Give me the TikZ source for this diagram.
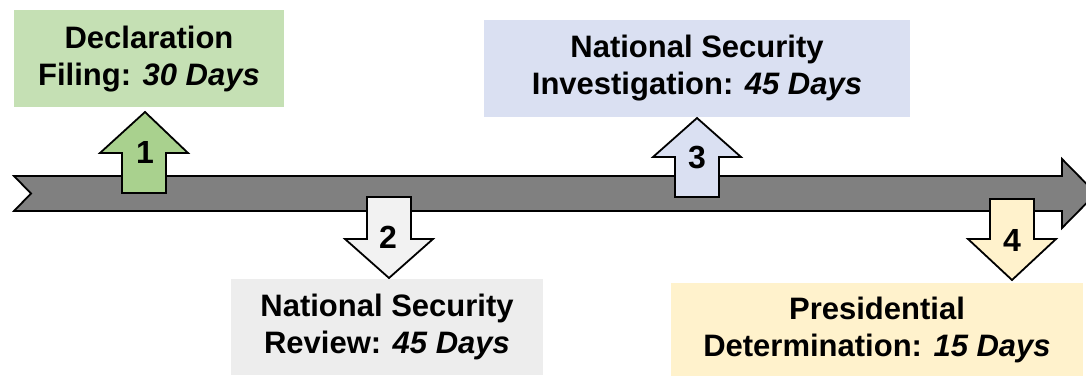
\documentclass[tikz,border=0pt]{standalone}
\usepackage{fontspec}
\setmainfont{Liberation Sans}
\definecolor{bodygray}{HTML}{808080}
\definecolor{greenbox}{HTML}{C5E0B4}
\definecolor{greenarrow}{HTML}{A9D18E}
\definecolor{graybox}{HTML}{EDEDED}
\definecolor{grayarrow}{HTML}{F2F2F2}
\definecolor{bluebox}{HTML}{DAE0F2}
\definecolor{bluearrow}{HTML}{DAE0F2}
\definecolor{yellowbox}{HTML}{FFF2CC}
\definecolor{yellowarrow}{HTML}{FFF2CC}
\tikzset{
  stagebox/.style={inner sep=0pt, align=center, font=\fontsize{31}{37}\selectfont\bfseries},
  stagearrow/.style={draw=black, line width=1.8pt, line join=miter},
  stagenum/.style={inner sep=0pt, font=\fontsize{32}{32}\selectfont\bfseries}
}
\begin{document}
\begin{tikzpicture}[x=1pt,y=-1pt]
\useasboundingbox (0,0) rectangle (1086,376);
\clip (0,0) rectangle (1086,376);

% timeline body
\draw[stagearrow, fill=bodygray]
  (14,176) -- (1062,176) -- (1062,159) -- (1096,193.5) -- (1062,228)
  -- (1062,211) -- (14,211) -- (31,193.5) -- cycle;

% stage boxes
\fill[greenbox]  (14,10)   rectangle (284,107);
\fill[bluebox]   (484,20)  rectangle (910,117);
\fill[graybox]   (231,279) rectangle (543,375);
\fill[yellowbox] (671,283) rectangle (1083,376);

\node[stagebox] (s1) at (149,59)  {Declaration\\Filing: \textit{30 Days}};
\node[stagebox] (s3) at (697,68)  {National Security\\Investigation: \textit{45 Days}};
\node[stagebox] (s2) at (387,327) {National Security\\Review: \textit{45 Days}};
\node[stagebox] (s4) at (877,330) {Presidential\\Determination: \textit{15 Days}};

% up and down arrows
\draw[stagearrow, fill=greenarrow]
  (145,112) -- (188,153) -- (166,153) -- (166,193) -- (122,193) -- (122,153) -- (100,153) -- cycle;
\draw[stagearrow, fill=grayarrow]
  (389,278) -- (433,239) -- (411,239) -- (411,197) -- (367,197) -- (367,239) -- (345,239) -- cycle;
\draw[stagearrow, fill=bluearrow]
  (697,118) -- (741,157) -- (719,157) -- (719,197) -- (675,197) -- (675,157) -- (653,157) -- cycle;
\draw[stagearrow, fill=yellowarrow]
  (1012,280) -- (1056,239) -- (1034,239) -- (1034,199) -- (990,199) -- (990,239) -- (968,239) -- cycle;

\node[stagenum] (n1) at (145,152)  {1};
\node[stagenum] (n2) at (388,237)  {2};
\node[stagenum] (n3) at (697,157)  {3};
\node[stagenum] (n4) at (1012,240) {4};
\end{tikzpicture}
\end{document}
